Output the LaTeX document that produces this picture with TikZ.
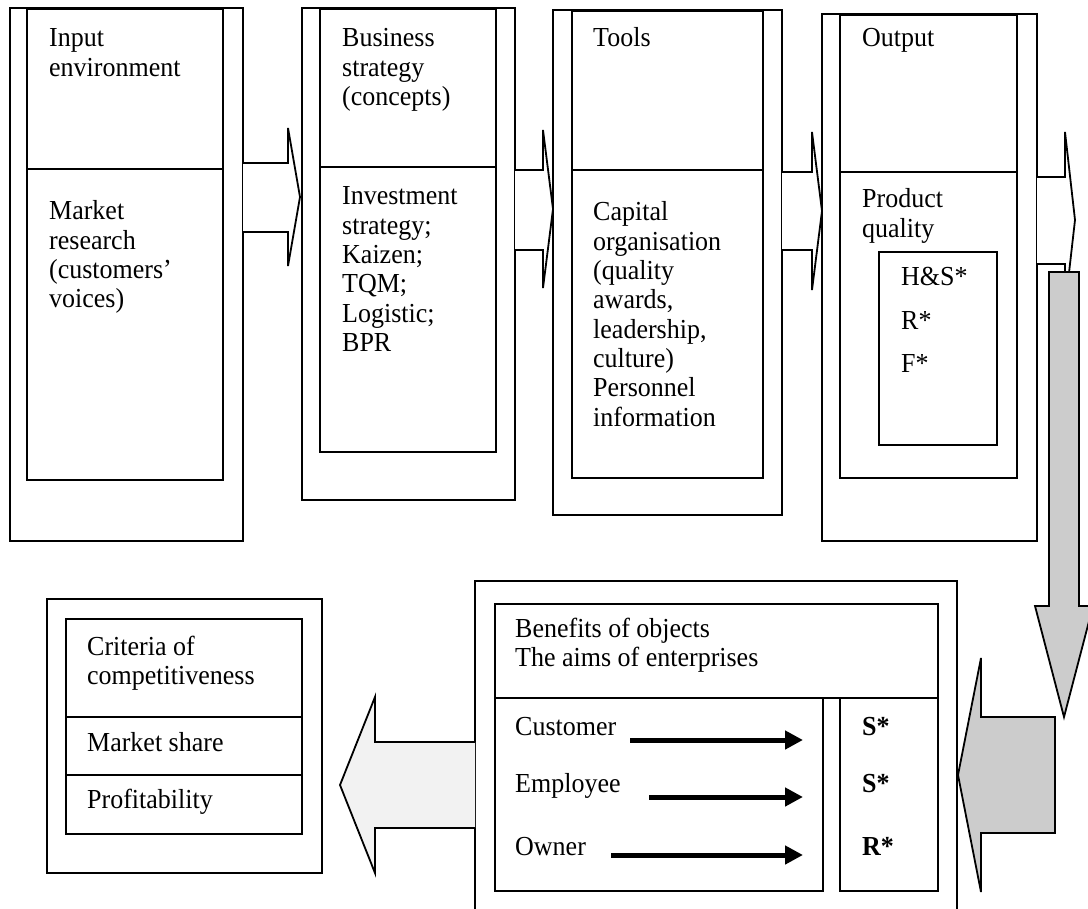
\documentclass[tikz,border=0pt]{standalone}
\usepackage{fontspec}
\setmainfont{Liberation Serif}[FakeStretch=0.945]
\usetikzlibrary{arrows.meta}
% several lines set flush left, first baseline at the node's base anchor
\newcommand{\linesof}[1]{\begin{tabular}[t]{@{}l@{}}#1\end{tabular}}
\begin{document}
\begin{tikzpicture}[x=1pt,y=-1pt,
  frame/.style={draw=black,line width=2pt},
  blockarrow/.style={draw=black,line width=1.8pt,line join=miter,fill=white},
  greyarrow/.style={blockarrow,fill=black!20},
  paler/.style={blockarrow,fill=black!5},
  txt/.style={anchor=base west,inner sep=0pt,font=\fontsize{27.5}{29.3}\selectfont},
  boldtxt/.style={txt,font=\fontsize{27.5}{29.3}\selectfont\bfseries},
  thinarrow/.style={line width=5pt,-{Triangle[length=18pt,width=18pt]}}]
\useasboundingbox (0,0) rectangle (1088,909);
\clip (0,0) rectangle (1088,909);

% ---- top row: four stages ----
\draw[frame] (10,8) rectangle (243,541);
\draw[frame] (27,9) rectangle (223,480);
\draw[frame] (27,169) -- (223,169);

\draw[frame] (302,8) rectangle (515,500);
\draw[frame] (320,9) rectangle (496,452);
\draw[frame] (320,167) -- (496,167);

\draw[frame] (553,10) rectangle (782,515);
\draw[frame] (572,11) rectangle (763,478);
\draw[frame] (572,170) -- (763,170);

\draw[frame] (822,14) rectangle (1037,541);
\draw[frame] (840,15) rectangle (1017,478);
\draw[frame] (840,172) -- (1017,172);
\draw[frame] (879,252) rectangle (997,445);

% block arrows between the stages
\draw[blockarrow] (243,163) -- (288,163) -- (288,128) -- (300,197) -- (288,266) -- (288,232) -- (243,232);
\draw[blockarrow] (515,170) -- (543,170) -- (543,130) -- (553,209) -- (543,288) -- (543,250) -- (515,250);
\draw[blockarrow] (782,172) -- (812,172) -- (812,132) -- (822,211) -- (812,290) -- (812,250) -- (782,250);
\draw[blockarrow] (1037,177) -- (1065,177) -- (1065,132) -- (1075,220) -- (1065,308) -- (1065,264) -- (1037,264);

% downward arrow and the arrow into the benefits block
\draw[greyarrow] (1049,272) -- (1079,272) -- (1079,606) -- (1093,606) -- (1064,717) -- (1035,606) -- (1049,606) -- cycle;
\draw[greyarrow] (1055,717) -- (1055,833) -- (981,833) -- (981,892) -- (958,775) -- (981,658) -- (981,717) -- cycle;

% ---- bottom row ----
\draw[frame] (475,581) rectangle (957,940);
\draw[frame] (495,604) rectangle (938,698);
\draw[frame] (495,698) rectangle (823,891);
\draw[frame] (840,698) rectangle (938,891);

\draw[paler] (475,742) -- (375,742) -- (375,697) -- (340,785) -- (375,873) -- (375,828) -- (475,828);

\draw[frame] (47,599) rectangle (322,873);
\draw[frame] (66,619) rectangle (302,834);
\draw[frame] (66,717) -- (302,717);
\draw[frame] (66,775) -- (302,775);

% ---- texts ----
\node[txt] (inp) at (49,47) {\linesof{Input\\environment}};
\node[txt] (mkt) at (49,220) {\linesof{Market\\research\\(customers’\\voices)}};

\node[txt] (bus) at (342,47) {\linesof{Business\\strategy\\(concepts)}};
\node[txt] (inv) at (342,205) {\linesof{Investment\\strategy;\\Kaizen;\\TQM;\\Logistic;\\BPR}};

\node[txt] (tools) at (593,47) {Tools};
\node[txt] (cap) at (593,221) {\linesof{Capital\\organisation\\(quality\\awards,\\leadership,\\culture)\\Personnel\\information}};

\node[txt] (outp) at (862,47) {Output};
\node[txt] (pq) at (862,208) {\linesof{Product\\quality}};
\node[txt] (hs) at (901,286) {H\&S*};
\node[txt] (rq) at (901,330) {R*};
\node[txt] (fq) at (901,373) {F*};

\node[txt] (ben) at (515,637) {\linesof{Benefits of objects\\The aims of enterprises}};
\node[txt] (cust) at (515,735) {Customer};
\node[txt] (empl) at (515,792) {Employee};
\node[txt] (own) at (515,855) {Owner};
\node[boldtxt] (s1) at (862,735) {S*};
\node[boldtxt] (s2) at (862,792) {S*};
\node[boldtxt] (r1) at (862,855) {R*};

\coordinate (ce) at (803,740);
\coordinate (ee) at (803,797);
\coordinate (oe) at (803,855);
\draw[thinarrow] (630,740) -- (ce);
\draw[thinarrow] (649,797) -- (ee);
\draw[thinarrow] (611,855) -- (oe);

\node[txt] (crit) at (87,655) {\linesof{Criteria of\\competitiveness}};
\node[txt] (share) at (87,751) {Market share};
\node[txt] (prof) at (87,808) {Profitability};
\end{tikzpicture}
\end{document}
